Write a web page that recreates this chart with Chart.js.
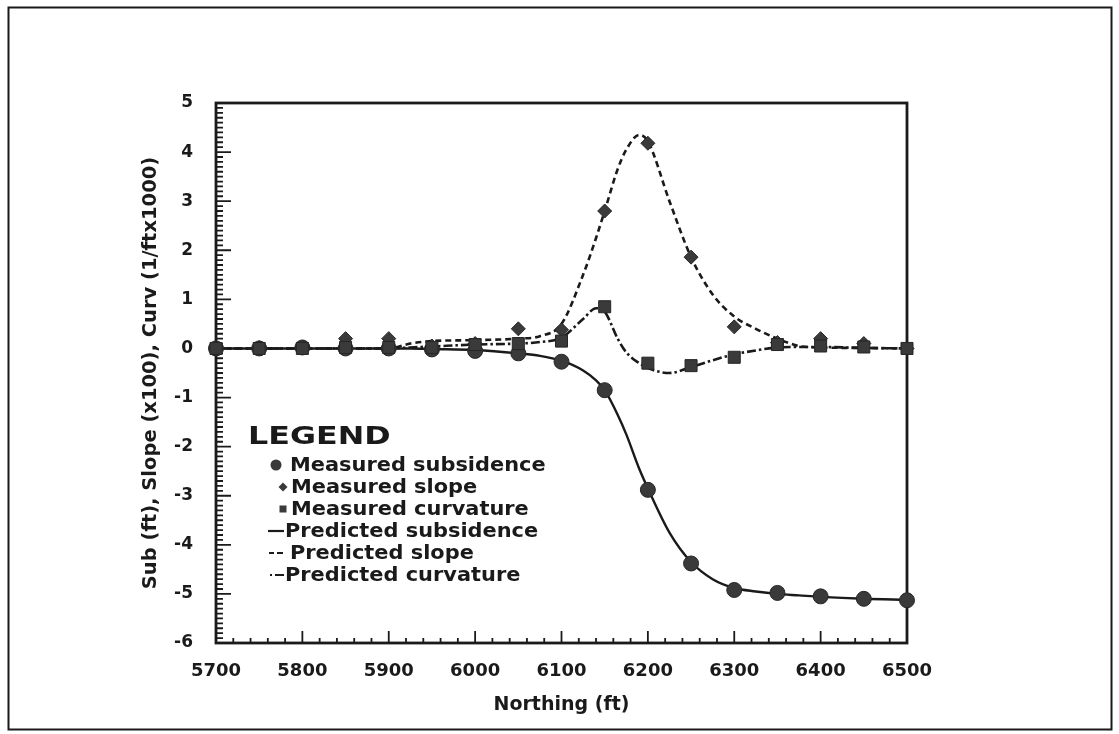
<!DOCTYPE html>
<html>
<head>
<meta charset="utf-8">
<script src="https://cdn.jsdelivr.net/npm/chart.js@4.4.1/dist/chart.umd.min.js"></script>
<style>
  html, body { margin: 0; padding: 0; background: #fff; }
  #wrap { width: 1119px; height: 734px; }
</style>
</head>
<body>
<div id="wrap"><canvas id="chart" width="1119" height="734"></canvas></div>
<script>
// measured points, every 50 ft
const northing = [5700, 5750, 5800, 5850, 5900, 5950, 6000, 6050, 6100, 6150, 6200, 6250, 6300, 6350, 6400, 6450, 6500];
const measuredSubsidence = [0, 0, 0.02, 0, 0, -0.02, -0.05, -0.1, -0.27, -0.85, -2.88, -4.38, -4.92, -4.98, -5.05, -5.1, -5.13];
const measuredSlope = [0, 0.02, 0.03, 0.2, 0.2, 0.05, 0.1, 0.4, 0.38, 2.8, 4.18, 1.86, 0.44, 0.12, 0.2, 0.1, 0];
const measuredCurvature = [0, 0, 0, 0.02, 0.02, 0.02, 0.08, 0.1, 0.15, 0.85, -0.3, -0.35, -0.18, 0.08, 0.05, 0.03, 0];

// predicted curves
const predNorthing = [5700, 5750, 5800, 5850, 5900, 5925, 5950, 6000, 6050, 6075, 6100, 6125, 6140, 6150, 6165, 6175, 6190, 6200, 6225, 6250, 6275, 6300, 6325, 6350, 6375, 6400, 6450, 6500];
const predictedSubsidence = [0, 0, 0, 0, 0, 0, -0.01, -0.03, -0.1, -0.15, -0.25, -0.45, -0.65, -0.85, -1.35, -1.75, -2.45, -2.85, -3.75, -4.35, -4.7, -4.88, -4.95, -5.0, -5.03, -5.06, -5.1, -5.12];
const predictedSlope = [0, 0, 0, 0, 0, 0.1, 0.15, 0.17, 0.2, 0.25, 0.5, 1.5, 2.25, 2.8, 3.65, 4.05, 4.35, 4.22, 3.0, 1.86, 1.1, 0.65, 0.4, 0.2, 0.05, 0.02, 0.01, 0];
const predictedCurvature = [0, 0, 0, 0, 0, 0.02, 0.04, 0.08, 0.1, 0.13, 0.22, 0.6, 0.82, 0.75, 0.2, -0.08, -0.3, -0.4, -0.5, -0.38, -0.24, -0.12, -0.04, 0.02, 0.03, 0.03, 0.01, 0];

const xTickLabels = [5700, 5800, 5900, 6000, 6100, 6200, 6300, 6400, 6500];
const yTickLabels = [-6, -5, -4, -3, -2, -1, 0, 1, 2, 3, 4, 5];

const FONT = "DejaVu Sans";
const INK = "#1a1a1a";
const MARK = "#3a3a3a";

const pairs = (xs, ys) => xs.map((x, i) => ({ x: x, y: ys[i] }));

// inward ticks + plot frame + outer page frame
const framePlugin = {
  id: "frame",
  beforeDatasetsDraw(chart) {
    const { ctx, chartArea: a, scales } = chart;
    const x = scales.x, y = scales.y;
    ctx.save();
    ctx.strokeStyle = INK;
    ctx.lineWidth = 1.8;
    ctx.beginPath();
    for (let i = 0; i <= 110; i++) {
      const py = y.getPixelForValue(-6 + i * 0.1);
      ctx.moveTo(a.left, py);
      ctx.lineTo(a.left + (i % 10 === 0 ? 15 : 7), py);
    }
    for (let i = 0; i <= 40; i++) {
      const px = x.getPixelForValue(5700 + i * 20);
      ctx.moveTo(px, a.bottom);
      ctx.lineTo(px, a.bottom - (i % 5 === 0 ? 12 : 5));
    }
    ctx.stroke();
    ctx.lineWidth = 2.8;
    ctx.strokeRect(a.left, a.top, a.right - a.left, a.bottom - a.top);
    ctx.lineWidth = 2;
    ctx.strokeRect(8.5, 7.5, 1103, 722);
    ctx.restore();
  }
};

// legend box inside the plot
const legendPlugin = {
  id: "legendInside",
  afterDraw(chart) {
    const { ctx, chartArea: a } = chart;
    const ds = chart.data.datasets;
    const left = a.left + 32;
    ctx.save();
    ctx.fillStyle = INK;
    ctx.strokeStyle = INK;
    ctx.textBaseline = "alphabetic";
    ctx.font = "bold 25px " + FONT;
    ctx.save();
    ctx.translate(left, a.top + 341);
    ctx.scale(1.27, 1);
    ctx.fillText("LEGEND", 0, 0);
    ctx.restore();

    const rows = [
      { label: ds[2].label, kind: "circle", tx: 290 },
      { label: ds[1].label, kind: "diamond", tx: 291 },
      { label: ds[0].label, kind: "square", tx: 291 },
      { label: ds[3].label, kind: "solid", tx: 285 },
      { label: ds[4].label, kind: "dash", tx: 290 },
      { label: ds[5].label, kind: "dashdot", tx: 285 }
    ];
    ctx.font = "bold 19px " + FONT;
    ctx.textBaseline = "middle";
    rows.forEach((r, i) => {
      const cy = a.top + 362 + i * 22;
      ctx.fillStyle = MARK;
      ctx.lineWidth = 2.2;
      ctx.beginPath();
      if (r.kind === "circle") {
        ctx.arc(left + 28, cy, 5.5, 0, Math.PI * 2);
        ctx.fill();
      } else if (r.kind === "diamond") {
        ctx.moveTo(left + 35, cy - 4.5);
        ctx.lineTo(left + 39.5, cy);
        ctx.lineTo(left + 35, cy + 4.5);
        ctx.lineTo(left + 30.5, cy);
        ctx.closePath();
        ctx.fill();
      } else if (r.kind === "square") {
        ctx.fillRect(left + 31.5, cy - 3.5, 7, 7);
      } else if (r.kind === "solid") {
        ctx.moveTo(left + 20, cy);
        ctx.lineTo(left + 36, cy);
        ctx.stroke();
      } else if (r.kind === "dash") {
        ctx.moveTo(left + 21, cy);
        ctx.lineTo(left + 26, cy);
        ctx.moveTo(left + 29, cy);
        ctx.lineTo(left + 35, cy);
        ctx.stroke();
      } else {
        ctx.moveTo(left + 22, cy);
        ctx.lineTo(left + 24, cy);
        ctx.moveTo(left + 27, cy);
        ctx.lineTo(left + 36, cy);
        ctx.stroke();
      }
      ctx.fillStyle = INK;
      ctx.save();
      ctx.translate(r.tx + (left - 248), cy);
      ctx.scale(1.1, 1);
      ctx.fillText(r.label, 0, 1);
      ctx.restore();
    });
    ctx.restore();
  }
};

const markerSet = (label, ys, style, radius) => ({
  label: label,
  data: pairs(northing, ys),
  showLine: false,
  pointStyle: style,
  pointRadius: radius,
  pointBackgroundColor: MARK,
  pointBorderColor: "#262626",
  pointBorderWidth: 1,
  clip: false
});

const lineSet = (label, ys, dash, width) => ({
  label: label,
  data: pairs(predNorthing, ys),
  showLine: true,
  borderColor: INK,
  borderWidth: width,
  borderDash: dash,
  pointRadius: 0,
  cubicInterpolationMode: "monotone",
  fill: false,
  clip: false
});

new Chart(document.getElementById("chart").getContext("2d"), {
  type: "scatter",
  data: {
    datasets: [
      markerSet("Measured curvature", measuredCurvature, "rect", 8.5),
      markerSet("Measured slope", measuredSlope, "rectRot", 7),
      markerSet("Measured subsidence", measuredSubsidence, "circle", 7.5),
      lineSet("Predicted subsidence", predictedSubsidence, [], 2.4),
      lineSet("Predicted slope", predictedSlope, [6, 4], 2.6),
      lineSet("Predicted curvature", predictedCurvature, [9, 3, 2.5, 3], 2.6)
    ]
  },
  options: {
    responsive: false,
    animation: false,
    layout: { padding: { top: 103, right: 212, bottom: 0, left: 0 } },
    plugins: {
      legend: { display: false },
      tooltip: { enabled: false }
    },
    scales: {
      x: {
        type: "linear",
        min: 5700,
        max: 6500,
        afterBuildTicks: (s) => { s.ticks = xTickLabels.map(v => ({ value: v })); },
        afterFit: (s) => { s.height = 91; },
        grid: { display: false, drawTicks: false },
        border: { display: false },
        ticks: {
          autoSkip: false,
          maxRotation: 0,
          padding: 18,
          color: INK,
          font: { family: FONT, size: 18, weight: "bold" },
          callback: (v) => String(v)
        },
        title: {
          display: true,
          text: "Northing (ft)",
          color: INK,
          font: { family: FONT, size: 19, weight: "bold" },
          padding: { top: 0, bottom: 18 }
        }
      },
      y: {
        type: "linear",
        min: -6,
        max: 5,
        afterBuildTicks: (s) => { s.ticks = yTickLabels.map(v => ({ value: v })); },
        afterFit: (s) => { s.width = 216; },
        grid: { display: false, drawTicks: false },
        border: { display: false },
        ticks: {
          autoSkip: false,
          padding: 23,
          color: INK,
          font: { family: FONT, size: 17, weight: "bold" },
          callback: (v) => String(v)
        },
        title: {
          display: true,
          text: "Sub (ft), Slope (x100), Curv (1/ftx1000)",
          color: INK,
          font: { family: FONT, size: 19.5, weight: "bold" },
          padding: { top: 139, bottom: 0 }
        }
      }
    }
  },
  plugins: [framePlugin, legendPlugin]
});
</script>
</body>
</html>
